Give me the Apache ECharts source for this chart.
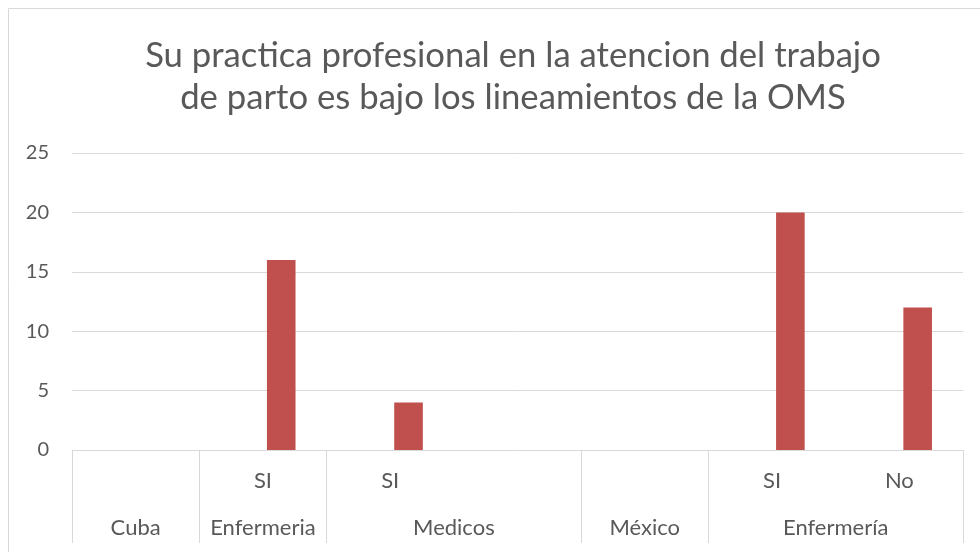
<!DOCTYPE html>
<html>
<head>
<meta charset="utf-8">
<script src="https://cdn.jsdelivr.net/npm/echarts@6/dist/echarts.min.js"></script>
<style>
  html, body { margin: 0; padding: 0; background: #ffffff; }
  #chart { width: 980px; height: 552px; }
</style>
</head>
<body>
<div id="chart"></div>
<script>
// ---- Data ----
const titleText = 'Su practica profesional en la atencion del trabajo\nde parto es bajo los lineamientos de la OMS';
const groupLabels = ['Cuba', 'Enfermeria', 'Medicos', 'Medicos', 'México', 'Enfermería', 'Enfermería'];
const subLabels = ['', 'SI', 'SI', '', '', 'SI', 'No'];
const otherSeries = [null, null, null, null, null, null, null];
const values = [null, 16, 4, null, null, 20, 12];
const yTicks = [0, 5, 10, 15, 20, 25];

// group spans on the category scale (start slot, end slot) for the outer level
const groupNames = ['Cuba', 'Enfermeria', 'Medicos', 'México', 'Enfermería'];
const groupStart = [0, 1, 2, 4, 5];
const groupEnd = [1, 2, 4, 5, 7];

const categories = groupLabels.map((g, i) => g + '|' + subLabels[i] + '|' + i);
const groupCenters = {};
groupNames.forEach((n, i) => { groupCenters[(groupStart[i] + groupEnd[i]) / 2] = n; });
const boundarySet = new Set(groupStart);

const FONT = 'Lato';
const TXT = '#595959';
const GRID = '#d9d9d9';

const chart = echarts.init(document.getElementById('chart'));
chart.setOption({
  animation: false,
  backgroundColor: '#ffffff',
  title: {
    text: titleText,
    left: 508,
    top: 30,
    textAlign: 'center',
    textStyle: { fontFamily: FONT, fontSize: 34.7, fontWeight: 'normal', color: TXT, lineHeight: 42 }
  },
  graphic: [{
    type: 'rect', silent: true, z: -1,
    shape: { x: 8.5, y: 8.5, width: 1200, height: 800 },
    style: { fill: 'none', stroke: '#d9d9d9', lineWidth: 1 }
  }],
  grid: { left: 72, right: 17, top: 153, bottom: 102, containLabel: false },
  xAxis: [{
    type: 'category',
    data: categories,
    position: 'bottom',
    axisLine: { show: true, lineStyle: { color: GRID, width: 1 } },
    axisTick: {
      show: true, length: 93, inside: false,
      interval: function (index) { return boundarySet.has(index); },
      lineStyle: { color: GRID, width: 1 }
    },
    axisLabel: {
      interval: 0, margin: 20,
      fontFamily: FONT, fontSize: 22, color: TXT,
      formatter: function (v) { return v.split('|')[1]; }
    },
    splitLine: { show: false }
  }, {
    type: 'value',
    position: 'bottom',
    min: 0, max: 7, interval: 0.5,
    axisLine: { show: false },
    axisTick: { show: false },
    splitLine: { show: false },
    axisLabel: {
      margin: 67, showMinLabel: true, showMaxLabel: true,
      fontFamily: FONT, fontSize: 22, color: TXT,
      formatter: function (v) { return groupCenters[v] || ''; }
    }
  }],
  yAxis: {
    type: 'value',
    min: 0, max: 25, interval: 5,
    axisLine: { show: false },
    axisTick: { show: false },
    axisLabel: {
      margin: 23, fontFamily: FONT, fontSize: 20, color: TXT,
      formatter: function (v) { return yTicks.indexOf(v) >= 0 ? String(v) : ''; }
    },
    splitLine: { show: true, lineStyle: { color: GRID, width: 1 } }
  },
  series: [{
    name: 'Serie 1',
    type: 'bar',
    xAxisIndex: 0,
    data: otherSeries,
    barWidth: 28.6,
    barGap: '28%',
    itemStyle: { color: '#4F81BD' }
  }, {
    name: 'Serie 2',
    type: 'bar',
    xAxisIndex: 0,
    data: values,
    barWidth: 28.6,
    barGap: '28%',
    itemStyle: { color: '#C0504D' }
  }]
});
</script>
</body>
</html>
